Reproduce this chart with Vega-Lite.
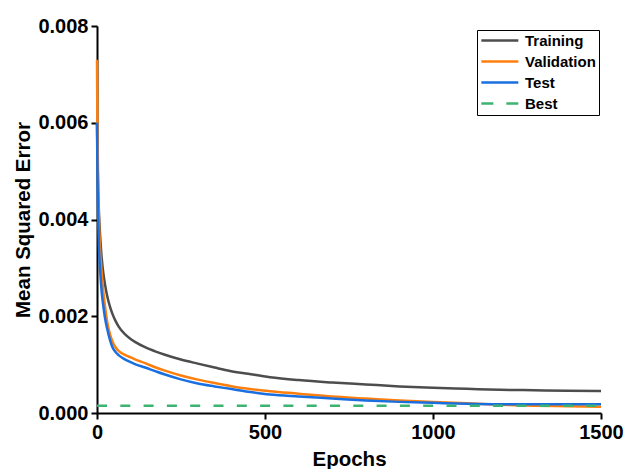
{
  "$schema": "https://vega.github.io/schema/vega-lite/v6.json",
  "width": 504,
  "height": 387,
  "autosize": {"type": "none"},
  "padding": {"left": 97, "top": 26, "right": 26, "bottom": 56},
  "background": "white",
  "datasets": {
    "curves": [
      {"series": "Training", "epoch": 0, "mse": 0.0060},
      {"series": "Training", "epoch": 1, "mse": 0.0055},
      {"series": "Training", "epoch": 2, "mse": 0.0051},
      {"series": "Training", "epoch": 4, "mse": 0.0045},
      {"series": "Training", "epoch": 6, "mse": 0.0041},
      {"series": "Training", "epoch": 9, "mse": 0.0037},
      {"series": "Training", "epoch": 14, "mse": 0.0032},
      {"series": "Training", "epoch": 19, "mse": 0.00288},
      {"series": "Training", "epoch": 24, "mse": 0.00265},
      {"series": "Training", "epoch": 30, "mse": 0.00243},
      {"series": "Training", "epoch": 39, "mse": 0.00219},
      {"series": "Training", "epoch": 46, "mse": 0.00205},
      {"series": "Training", "epoch": 54, "mse": 0.00192},
      {"series": "Training", "epoch": 65, "mse": 0.00178},
      {"series": "Training", "epoch": 83, "mse": 0.00163},
      {"series": "Training", "epoch": 100, "mse": 0.00153},
      {"series": "Training", "epoch": 113, "mse": 0.00147},
      {"series": "Training", "epoch": 143, "mse": 0.00136},
      {"series": "Training", "epoch": 175, "mse": 0.00127},
      {"series": "Training", "epoch": 200, "mse": 0.00121},
      {"series": "Training", "epoch": 247, "mse": 0.00111},
      {"series": "Training", "epoch": 300, "mse": 0.00102},
      {"series": "Training", "epoch": 350, "mse": 0.00094},
      {"series": "Training", "epoch": 396, "mse": 0.00087},
      {"series": "Training", "epoch": 450, "mse": 0.00081},
      {"series": "Training", "epoch": 515, "mse": 0.00074},
      {"series": "Training", "epoch": 600, "mse": 0.00068},
      {"series": "Training", "epoch": 700, "mse": 0.00063},
      {"series": "Training", "epoch": 800, "mse": 0.00059},
      {"series": "Training", "epoch": 900, "mse": 0.00055},
      {"series": "Training", "epoch": 1000, "mse": 0.00052},
      {"series": "Training", "epoch": 1100, "mse": 0.0005},
      {"series": "Training", "epoch": 1200, "mse": 0.00048},
      {"series": "Training", "epoch": 1300, "mse": 0.00047},
      {"series": "Training", "epoch": 1400, "mse": 0.00046},
      {"series": "Training", "epoch": 1500, "mse": 0.000455},
      {"series": "Validation", "epoch": 0, "mse": 0.0073},
      {"series": "Validation", "epoch": 1, "mse": 0.0062},
      {"series": "Validation", "epoch": 2, "mse": 0.0055},
      {"series": "Validation", "epoch": 4, "mse": 0.0045},
      {"series": "Validation", "epoch": 6, "mse": 0.0039},
      {"series": "Validation", "epoch": 9, "mse": 0.0034},
      {"series": "Validation", "epoch": 14, "mse": 0.0029},
      {"series": "Validation", "epoch": 19, "mse": 0.0025},
      {"series": "Validation", "epoch": 24, "mse": 0.0022},
      {"series": "Validation", "epoch": 30, "mse": 0.0019},
      {"series": "Validation", "epoch": 39, "mse": 0.00162},
      {"series": "Validation", "epoch": 46, "mse": 0.00148},
      {"series": "Validation", "epoch": 54, "mse": 0.00137},
      {"series": "Validation", "epoch": 65, "mse": 0.00128},
      {"series": "Validation", "epoch": 83, "mse": 0.0012},
      {"series": "Validation", "epoch": 100, "mse": 0.00115},
      {"series": "Validation", "epoch": 113, "mse": 0.00111},
      {"series": "Validation", "epoch": 143, "mse": 0.00103},
      {"series": "Validation", "epoch": 175, "mse": 0.00094},
      {"series": "Validation", "epoch": 200, "mse": 0.00088},
      {"series": "Validation", "epoch": 247, "mse": 0.00078},
      {"series": "Validation", "epoch": 300, "mse": 0.00069},
      {"series": "Validation", "epoch": 350, "mse": 0.00062},
      {"series": "Validation", "epoch": 396, "mse": 0.00056},
      {"series": "Validation", "epoch": 450, "mse": 0.0005},
      {"series": "Validation", "epoch": 515, "mse": 0.00045},
      {"series": "Validation", "epoch": 600, "mse": 0.0004},
      {"series": "Validation", "epoch": 700, "mse": 0.00034},
      {"series": "Validation", "epoch": 800, "mse": 0.0003},
      {"series": "Validation", "epoch": 900, "mse": 0.00026},
      {"series": "Validation", "epoch": 1000, "mse": 0.00023},
      {"series": "Validation", "epoch": 1100, "mse": 0.0002},
      {"series": "Validation", "epoch": 1200, "mse": 0.00017},
      {"series": "Validation", "epoch": 1300, "mse": 0.00015},
      {"series": "Validation", "epoch": 1400, "mse": 0.00014},
      {"series": "Validation", "epoch": 1500, "mse": 0.00013},
      {"series": "Test", "epoch": 0, "mse": 0.0060},
      {"series": "Test", "epoch": 1, "mse": 0.0052},
      {"series": "Test", "epoch": 2, "mse": 0.0046},
      {"series": "Test", "epoch": 4, "mse": 0.0039},
      {"series": "Test", "epoch": 6, "mse": 0.0034},
      {"series": "Test", "epoch": 9, "mse": 0.0030},
      {"series": "Test", "epoch": 14, "mse": 0.0025},
      {"series": "Test", "epoch": 19, "mse": 0.0022},
      {"series": "Test", "epoch": 24, "mse": 0.00196},
      {"series": "Test", "epoch": 30, "mse": 0.00175},
      {"series": "Test", "epoch": 39, "mse": 0.0015},
      {"series": "Test", "epoch": 46, "mse": 0.00136},
      {"series": "Test", "epoch": 54, "mse": 0.00127},
      {"series": "Test", "epoch": 65, "mse": 0.00119},
      {"series": "Test", "epoch": 83, "mse": 0.00111},
      {"series": "Test", "epoch": 100, "mse": 0.00105},
      {"series": "Test", "epoch": 113, "mse": 0.00101},
      {"series": "Test", "epoch": 143, "mse": 0.00094},
      {"series": "Test", "epoch": 175, "mse": 0.00086},
      {"series": "Test", "epoch": 200, "mse": 0.0008},
      {"series": "Test", "epoch": 247, "mse": 0.0007},
      {"series": "Test", "epoch": 300, "mse": 0.00061},
      {"series": "Test", "epoch": 350, "mse": 0.00055},
      {"series": "Test", "epoch": 396, "mse": 0.0005},
      {"series": "Test", "epoch": 450, "mse": 0.00044},
      {"series": "Test", "epoch": 515, "mse": 0.00038},
      {"series": "Test", "epoch": 600, "mse": 0.00034},
      {"series": "Test", "epoch": 700, "mse": 0.0003},
      {"series": "Test", "epoch": 800, "mse": 0.00026},
      {"series": "Test", "epoch": 900, "mse": 0.00023},
      {"series": "Test", "epoch": 1000, "mse": 0.00021},
      {"series": "Test", "epoch": 1100, "mse": 0.00019},
      {"series": "Test", "epoch": 1200, "mse": 0.00018},
      {"series": "Test", "epoch": 1300, "mse": 0.00018},
      {"series": "Test", "epoch": 1400, "mse": 0.00018},
      {"series": "Test", "epoch": 1500, "mse": 0.00018},
      {"series": "Best", "epoch": 0, "mse": 0.00015},
      {"series": "Best", "epoch": 1500, "mse": 0.00015}
    ]
  },
  "data": {"name": "curves"},
  "encoding": {
    "x": {
      "field": "epoch", "type": "quantitative", "title": "Epochs",
      "scale": {"domain": [0, 1500], "nice": false},
      "axis": {"values": [0, 500, 1000, 1500], "format": "d"}
    },
    "y": {
      "field": "mse", "type": "quantitative", "title": "Mean Squared Error",
      "scale": {"domain": [0, 0.008], "nice": false},
      "axis": {"values": [0, 0.002, 0.004, 0.006, 0.008], "format": ".3f"}
    },
    "color": {
      "field": "series", "type": "nominal", "title": null,
      "scale": {
        "domain": ["Training", "Validation", "Test", "Best"],
        "range": ["#4d4d4d", "#ff7f0e", "#1a6fe0", "#3cb371"]
      },
      "legend": {
        "orient": "none", "legendX": 380, "legendY": 4,
        "strokeColor": "black", "padding": 3,
        "fillColor": "white",
        "symbolType": "M-1,0H5", "symbolSize": 152, "symbolStrokeWidth": 2.5,
        "labelFont": "Liberation Sans", "labelFontWeight": "bold", "labelFontSize": 15,
        "labelColor": "black", "labelOffset": 30, "rowPadding": 5,
        "encode": {
          "symbols": {
            "update": {
              "strokeDash": {"signal": "datum.label === 'Best' ? [12, 13] : null"}
            }
          }
        }
      }
    }
  },
  "layer": [
    {"transform": [{"filter": "datum.series === 'Training'"}], "mark": {"type": "line", "strokeWidth": 2.5, "interpolate": "monotone"}},
    {"transform": [{"filter": "datum.series === 'Validation'"}], "mark": {"type": "line", "strokeWidth": 2.5, "interpolate": "monotone"}},
    {"transform": [{"filter": "datum.series === 'Test'"}], "mark": {"type": "line", "strokeWidth": 2.5, "interpolate": "monotone"}},
    {"transform": [{"filter": "datum.series === 'Best'"}], "mark": {"type": "line", "strokeWidth": 2.5, "strokeDash": [10, 13.3]}}
  ],
  "config": {
    "view": {"stroke": null},
    "axis": {
      "grid": false,
      "domainColor": "black", "domainWidth": 2,
      "tickColor": "black", "tickWidth": 2, "tickSize": 6,
      "labelFont": "Liberation Sans", "labelFontWeight": "bold", "labelFontSize": 20, "labelColor": "black",
      "titleFont": "Liberation Sans", "titleFontWeight": "bold", "titleFontSize": 20.5, "titleColor": "black",
      "labelPadding": 3
    },
    "axisX": {"titlePadding": 7, "labelFlush": false},
    "axisY": {"titlePadding": 4, "labelFlush": false}
  }
}
